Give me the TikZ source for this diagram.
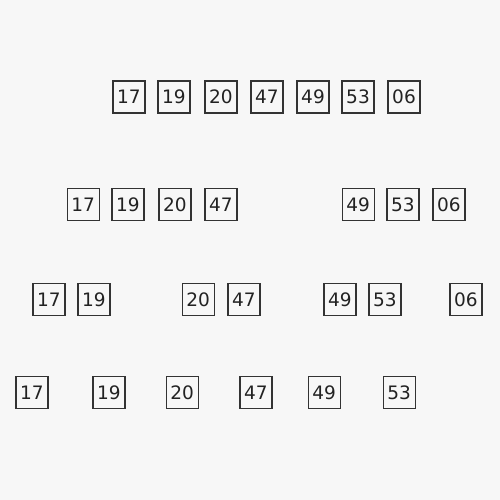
\documentclass[tikz,border=0pt]{standalone}
\usepackage{fontspec}
\setmainfont{DejaVu Sans}
\definecolor{bg}{HTML}{F7F7F7}
\definecolor{edge}{HTML}{333333}
\definecolor{txt}{HTML}{222222}
\begin{document}
\begin{tikzpicture}[x=1pt,y=-1pt,
  cell/.style={draw=edge,line width=1.4pt,fill=bg,text=txt,minimum size=32pt,inner sep=0pt,font=\fontsize{18.5pt}{20pt}\selectfont}]
\fill[bg] (0,0) rectangle (500,500);
\useasboundingbox (0,0) rectangle (500,500);
% row 1
\node[cell] (a1) at (129,97) {17};
\node[cell] (a2) at (174,97) {19};
\node[cell] (a3) at (221,97) {20};
\node[cell] (a4) at (267,97) {47};
\node[cell] (a5) at (313,97) {49};
\node[cell] (a6) at (358,97) {53};
\node[cell] (a7) at (404,97) {06};
% row 2
\node[cell] (b1) at (83.2,204.3) {17};
\node[cell] (b2) at (127.8,204.3) {19};
\node[cell] (b3) at (174.8,204.3) {20};
\node[cell] (b4) at (220.8,204.3) {47};
\node[cell] (b5) at (358.2,204.3) {49};
\node[cell] (b6) at (402.8,204.3) {53};
\node[cell] (b7) at (448.8,204.3) {06};
% row 3
\node[cell] (c1) at (48.8,299.3) {17};
\node[cell] (c2) at (93.8,299.3) {19};
\node[cell] (c3) at (198.2,299.3) {20};
\node[cell] (c4) at (243.8,299.3) {47};
\node[cell] (c5) at (339.8,299.3) {49};
\node[cell] (c6) at (384.8,299.3) {53};
\node[cell] (c7) at (465.8,299.3) {06};
% row 4
\node[cell] (d1) at (31.8,392.3) {17};
\node[cell] (d2) at (108.8,392.3) {19};
\node[cell] (d3) at (182.2,392.3) {20};
\node[cell] (d4) at (255.8,392.3) {47};
\node[cell] (d5) at (324.2,392.3) {49};
\node[cell] (d6) at (399.2,392.3) {53};
\end{tikzpicture}
\end{document}
